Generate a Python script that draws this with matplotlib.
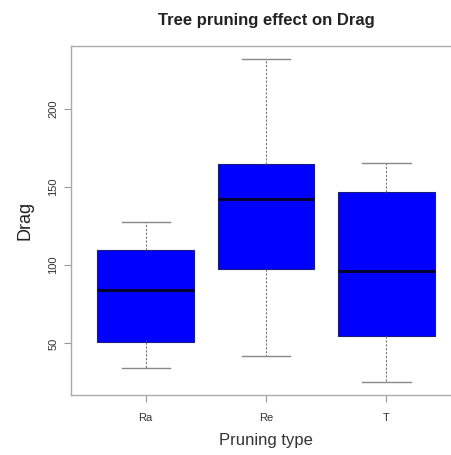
import matplotlib
matplotlib.use("Agg")
import matplotlib.pyplot as plt

plt.rcParams['font.family'] = ['Liberation Sans', 'DejaVu Sans']

# summary values per pruning type
groups = ["Ra", "Re", "T"]
whisk_low = [34.5, 42, 25.3]
q1 = [51, 97.8, 54.6]
medians = [84, 142.3, 96.4]
q3 = [109.5, 164.8, 146.6]
whisk_high = [127.5, 231.7, 165]
y_ticks = [50, 100, 150, 200]

stats = []
for name, lo, a, m, b, hi in zip(groups, whisk_low, q1, medians, q3, whisk_high):
    stats.append({"label": name, "whislo": lo, "q1": a, "med": m, "q3": b,
                  "whishi": hi, "fliers": []})

fig = plt.figure(figsize=(4.51, 4.55), dpi=100)
ax = fig.add_axes([0.1574, 0.1319, 0.865, 0.767])

ax.bxp(stats, positions=[1, 2, 3], widths=0.8, patch_artist=True,
       showfliers=False,
       boxprops=dict(facecolor="#0000ff", edgecolor="#1a1a80", linewidth=0.8),
       medianprops=dict(color="#000033", linewidth=2.2),
       whiskerprops=dict(color="#777777", linewidth=0.8, linestyle=(0, (2, 1.5))),
       capprops=dict(color="#888888", linewidth=1.0),
       capwidths=0.4)

span = max(whisk_high) - min(whisk_low)
ax.set_ylim(min(whisk_low) - 0.04 * span, max(whisk_high) + 0.04 * span)
ax.set_xlim(0.38, 3.62)

ax.set_yticks(y_ticks)
ax.set_yticklabels([str(t) for t in y_ticks], rotation=90, va="center")
ax.set_xticks([1, 2, 3])
ax.set_xticklabels(groups)
ax.tick_params(axis="both", colors="#999999", labelcolor="#333333",
               labelsize=8, length=5, width=0.8, pad=4)
ax.tick_params(axis="x", pad=8)

for s in ax.spines.values():
    s.set_color("#aaaaaa")
    s.set_linewidth(1.0)

ax.set_title("Tree pruning effect on Drag", fontsize=12, fontweight="bold",
             color="#222222", pad=15)
ax.set_ylabel("Drag", fontsize=13, color="#222222", labelpad=11)
ax.set_xlabel("Pruning type", fontsize=12, color="#333333", labelpad=7)

fig.savefig("out.png", dpi=100)
